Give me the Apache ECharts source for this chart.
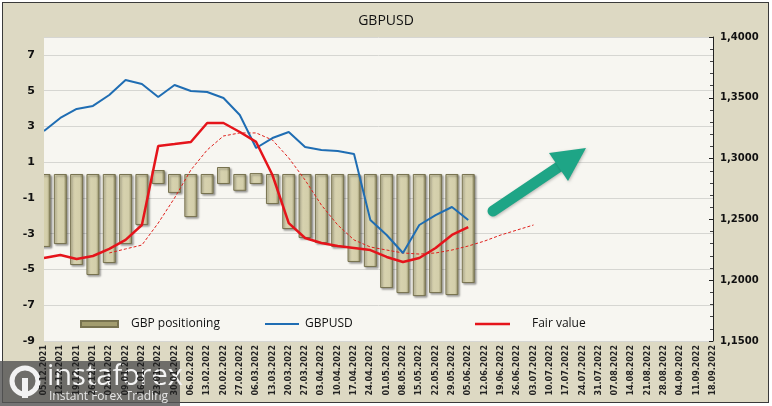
<!DOCTYPE html>
<html>
<head>
<meta charset="utf-8">
<script src="https://cdn.jsdelivr.net/npm/echarts@6/dist/echarts.min.js"></script>
<style>
html,body{margin:0;padding:0;background:#ffffff;}
#frame{position:absolute;left:2px;top:2px;width:765px;height:399px;border:1px solid #3a3a3a;background:#DDD9C3;}
#chart{position:absolute;left:0;top:0;width:772px;height:406px;}
</style>
</head>
<body>
<div id="frame"></div>
<div id="chart"></div>
<script>
// ---- data ----
const categories = ['05.12.2021','12.12.2021','19.12.2021','26.12.2021','02.01.2022','09.01.2022','16.01.2022','23.01.2022','30.01.2022',
 '06.02.2022','13.02.2022','20.02.2022','27.02.2022','06.03.2022','13.03.2022','20.03.2022','27.03.2022','03.04.2022','10.04.2022',
 '17.04.2022','24.04.2022','01.05.2022','08.05.2022','15.05.2022','22.05.2022','29.05.2022','05.06.2022','12.06.2022','19.06.2022',
 '26.06.2022','03.07.2022','10.07.2022','17.07.2022','24.07.2022','31.07.2022','07.08.2022','14.08.2022','21.08.2022','28.08.2022',
 '04.09.2022','11.09.2022','18.09.2022'];
const gbpPositioning = [-3.74,-3.58,-4.75,-5.31,-4.64,-3.58,-2.51,0.56,-0.72,-2.07,-0.78,0.73,-0.6,0.39,-1.34,-2.74,-3.24,-3.52,-3.74,-4.58,-4.86,-6.04,-6.32,-6.49,-6.32,-6.43,-5.76];
const gbpusd = [1.3227,1.3334,1.3408,1.3433,1.3523,1.3646,1.3613,1.3507,1.3605,1.3556,1.3548,1.3498,1.3359,1.3087,1.3169,1.3219,1.3095,1.3071,1.3063,1.3038,1.2495,1.2372,1.2224,1.2454,1.2536,1.2602,1.2495];
const fairValue = [1.2183,1.2207,1.2174,1.2199,1.2257,1.2331,1.2454,1.3104,1.3120,1.3137,1.3293,1.3293,1.3219,1.3137,1.2865,1.2470,1.2347,1.2306,1.2281,1.2265,1.2248,1.2191,1.2150,1.2183,1.2265,1.2372,1.2437];
const fairValueTrend = [null,null,null,null,1.2224,1.2257,1.2289,1.2470,1.2676,1.2906,1.3071,1.3186,1.3211,1.3211,1.3153,1.3005,1.2824,1.2618,1.2454,1.2331,1.2273,1.2248,1.2224,1.2215,1.2224,1.2248,1.2281,1.2322,1.2372,1.2413,1.2454];
const leftTicks = {min:-9, max:8, interval:2};
const rightTicks = {min:1.15, max:1.40, interval:0.05};
const barTopBase = 0.34;    // level from which short positions hang
const barBottomBase = -0.22; // level from which long positions rise

// build stacked range bars
const barBase = gbpPositioning.map(v => v < 0 ? v : barBottomBase);
const barBody = gbpPositioning.map(v => v < 0 ? barTopBase - v : v - barBottomBase);

const chart = echarts.init(document.getElementById('chart'), null, {renderer:'canvas'});
const barFill = new echarts.graphic.LinearGradient(0,0,1,0,[
  {offset:0,color:'#a9a37c'},{offset:0.12,color:'#d9d4b1'},{offset:0.75,color:'#d3ceaa'},{offset:1,color:'#858059'}]);
const axisFont = 'DejaVu Sans';
const gridLeft = 44, gridRight = 59, gridTop = 37, gridBottom = 65;
const option = {
  backgroundColor:'transparent',
  animation:false,
  title:{text:'GBPUSD', left:'center', top:9, textStyle:{fontFamily:'Open Sans', fontSize:14, fontWeight:'normal', color:'#111'}},
  grid:{left:gridLeft, right:gridRight, top:gridTop, bottom:gridBottom, show:true, backgroundColor:'#F7F6F1', borderWidth:0},
  legend:[
    {data:[{name:'GBP positioning', itemStyle:{color:'#a29c6e'}}], left:75, top:313, icon:'rect', itemWidth:37, itemHeight:6,
     textStyle:{fontFamily:'Open Sans', fontSize:12, color:'#111', padding:[0,0,0,8]}},
    {data:[{name:'GBPUSD', icon:'rect', itemStyle:{color:'#1f6db3'}}], left:260, top:313, itemWidth:34, itemHeight:2,
     textStyle:{fontFamily:'Open Sans', fontSize:12, color:'#111', padding:[0,0,0,1]}},
    {data:[{name:'Fair value', icon:'rect', itemStyle:{color:'#e5141b'}}], left:470, top:313, itemWidth:35, itemHeight:2.5,
     textStyle:{fontFamily:'Open Sans', fontSize:12, color:'#111', padding:[0,0,0,17]}}
  ],
  xAxis:{type:'category', data:categories, boundaryGap:false,
    axisLine:{show:false}, axisTick:{show:false},
    axisLabel:{rotate:90, interval:0, margin:4, fontFamily:axisFont, fontSize:8, fontWeight:'bold', color:'#222'},
    splitLine:{show:false}},
  yAxis:[
    {type:'value', min:leftTicks.min, max:leftTicks.max, interval:leftTicks.interval, position:'left',
     axisLine:{show:false}, axisTick:{show:false},
     axisLabel:{showMaxLabel:false, margin:9, fontFamily:axisFont, fontSize:11, fontWeight:'bold', color:'#111'},
     splitLine:{lineStyle:{color:'#d6d6d2', width:1}}},
    {type:'value', min:rightTicks.min, max:rightTicks.max, interval:rightTicks.interval, position:'right',
     axisLine:{show:true, lineStyle:{color:'#222', width:1}},
     axisTick:{show:true, inside:true, length:4, lineStyle:{color:'#222'}},
     minorTick:{show:true, splitNumber:5, length:3, lineStyle:{color:'#444'}},
     axisLabel:{margin:7, fontFamily:axisFont, fontSize:10, fontWeight:'bold', color:'#111',
       formatter:v => v.toFixed(4).replace('.', ',')},
     splitLine:{show:false}}
  ],
  series:[
    {name:'base', type:'bar', stack:'pos', stackStrategy:'all', data:barBase, barWidth:13, silent:true,
     itemStyle:{color:'rgba(0,0,0,0)'}, yAxisIndex:0},
    {name:'GBP positioning', type:'bar', stack:'pos', stackStrategy:'all', data:barBody, barWidth:13, yAxisIndex:0,
     itemStyle:{color:barFill, borderColor:'#77724f', borderWidth:1,
       shadowColor:'rgba(0,0,0,0.35)', shadowBlur:2, shadowOffsetX:1.5, shadowOffsetY:1.5}},
    {name:'Fair value trend', type:'line', yAxisIndex:1, data:fairValueTrend, showSymbol:false, symbol:'none',
     lineStyle:{color:'#e0201c', width:1, type:[3,2]}, z:3},
    {name:'GBPUSD', type:'line', yAxisIndex:1, data:gbpusd, showSymbol:false, symbol:'none',
     itemStyle:{color:'#1f6db3'}, lineStyle:{color:'#1f6db3', width:2}, z:4},
    {name:'Fair value', type:'line', yAxisIndex:1, data:fairValue, showSymbol:false, symbol:'none',
     itemStyle:{color:'#e5141b'}, lineStyle:{color:'#e5141b', width:2.5}, z:5}
  ],
  graphic:[
    // cover bar overflow left of the plot area (frame colour)
    {type:'rect', z:8, shape:{x:gridLeft-8, y:gridTop, width:8, height:406-gridTop-gridBottom}, style:{fill:'#DDD9C3'}},
    // annotation arrow
    {type:'line', z:10, shape:{x1:493, y1:211, x2:560, y2:166},
     style:{stroke:'#1ea586', lineWidth:11, lineCap:'round', shadowBlur:3, shadowColor:'rgba(0,0,0,0.25)', shadowOffsetX:1, shadowOffsetY:1}},
    {type:'polygon', z:10, shape:{points:[[586,148],[549,153],[568,181]]},
     style:{fill:'#1ea586', shadowBlur:3, shadowColor:'rgba(0,0,0,0.25)', shadowOffsetX:1, shadowOffsetY:1}},
    // watermark
    {type:'group', z:20, children:[
      {type:'rect', shape:{x:0, y:361, width:180, height:45}, style:{fill:'rgba(85,85,85,0.82)'}},
      {type:'circle', shape:{cx:25, cy:381, r:13}, style:{fill:'none', stroke:'#f2f2f2', lineWidth:5}},
      {type:'rect', shape:{x:22, y:378, width:6, height:20}, style:{fill:'#f2f2f2'}},
      {type:'text', x:47, y:362, style:{text:'instaforex', fill:'#f4f4f4', fontFamily:'Open Sans', fontSize:29, fontWeight:'normal'}},
      {type:'text', x:49, y:391, style:{text:'Instant Forex Trading', fill:'#e6e6e6', fontFamily:'Open Sans', fontSize:12}}
    ]}
  ]
};
chart.setOption(option);
</script>
</body>
</html>
